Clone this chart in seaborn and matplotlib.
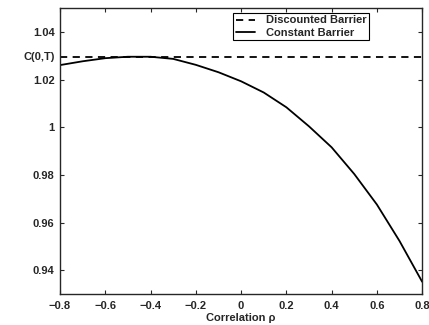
import numpy as np
import pandas as pd
import matplotlib
matplotlib.use("Agg")
import matplotlib.pyplot as plt
import seaborn as sns

# values
rho = [-0.8, -0.7, -0.6, -0.5, -0.4, -0.3, -0.2, -0.1, 0.0,
       0.1, 0.2, 0.3, 0.4, 0.5, 0.6, 0.7, 0.8]
constant_barrier = [1.0261, 1.0277, 1.0290, 1.0296, 1.0296, 1.0287, 1.0262,
                    1.0231, 1.0193, 1.0146, 1.0084, 1.0004, 0.9916, 0.9804,
                    0.9676, 0.9523, 0.9352]
discounted_barrier = 1.0297
x_ticks = [-0.8, -0.6, -0.4, -0.2, 0, 0.2, 0.4, 0.6, 0.8]
x_ticklabels = ["\u22120.8", "\u22120.6", "\u22120.4", "\u22120.2", "0",
                "0.2", "0.4", "0.6", "0.8"]
y_ticks = [0.94, 0.96, 0.98, 1.0, 1.02, 1.04]
y_ticklabels = ["0.94", "0.96", "0.98", "1", "1.02", "1.04"]

df = pd.DataFrame({"rho": rho, "C": constant_barrier})

sns.set_style("ticks")
plt.rcParams["font.family"] = ["Liberation Sans", "DejaVu Sans"]
plt.rcParams["font.weight"] = "bold"
plt.rcParams["xtick.direction"] = "in"
plt.rcParams["ytick.direction"] = "in"

fig = plt.figure(figsize=(4.29, 3.25), dpi=100)
ax = fig.add_axes([0.14, 0.095, 0.844, 0.88])

ax.axhline(discounted_barrier, color="black", ls=(0, (4, 3)), lw=1.3,
           label="Discounted Barrier")
sns.lineplot(data=df, x="rho", y="C", color="black", lw=1.3,
             label="Constant Barrier", ax=ax)

ax.set_xlim(-0.8, 0.8)
ax.set_ylim(0.93, 1.05)
ax.set_xticks(x_ticks)
ax.set_xticklabels(x_ticklabels, fontsize=8, fontweight="bold")
ax.set_yticks(y_ticks)
ax.set_yticklabels(y_ticklabels, fontsize=8, fontweight="bold")
ax.tick_params(top=True, right=True, length=3, width=0.8)
ax.tick_params(axis="x", pad=5)
ax.tick_params(axis="y", pad=4)
for s in ax.spines.values():
    s.set_linewidth(1.0)
    s.set_visible(True)

ax.set_xlabel("Correlation \u03c1", fontsize=8, fontweight="bold", labelpad=1.5)
ax.set_ylabel("")
ax.text(-0.015, discounted_barrier, "C(0,T)", transform=ax.get_yaxis_transform(),
        ha="right", va="center", fontsize=8, fontweight="bold")

leg = ax.legend(loc="upper right", bbox_to_anchor=(0.854, 0.984), borderaxespad=0,
                fancybox=False, framealpha=1, edgecolor="black",
                prop={"size": 8, "weight": "bold"}, handlelength=1.7,
                borderpad=0.25, labelspacing=0.2, handletextpad=1.0)
leg.get_frame().set_linewidth(0.8)

fig.savefig("out.png", dpi=100)
